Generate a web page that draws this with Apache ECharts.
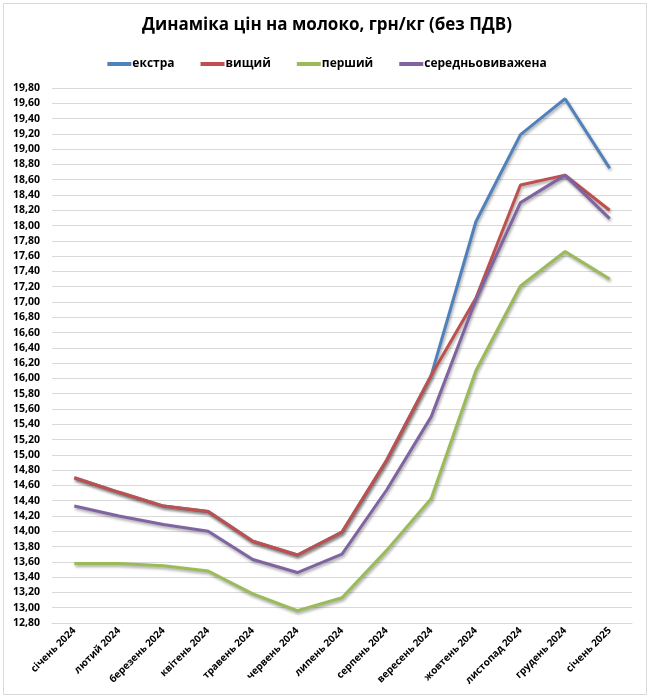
<!DOCTYPE html>
<html><head><meta charset="utf-8">
<script src="https://cdn.jsdelivr.net/npm/echarts@6/dist/echarts.min.js"></script>
<style>html,body{margin:0;padding:0;background:#fff}#c{width:654px;height:700px}</style>
</head><body><div id="c"></div>
<script>
const categories = ['січень 2024','лютий 2024','березень 2024','квітень 2024','травень 2024','червень 2024','липень 2024','серпень 2024','вересень 2024','жовтень 2024','листопад 2024','грудень 2024','січень 2025'];
const ekstra = [14.70,14.51,14.33,14.26,13.87,13.69,13.99,14.93,16.04,18.05,19.19,19.66,18.75];
const vyshchyi = [14.70,14.51,14.33,14.26,13.87,13.69,13.99,14.93,16.04,17.05,18.53,18.66,18.20];
const pershyi = [13.58,13.58,13.55,13.48,13.18,12.96,13.13,13.75,14.43,16.10,17.21,17.66,17.30];
const serednio = [14.33,14.20,14.09,14.00,13.63,13.46,13.70,14.54,15.50,17.03,18.30,18.66,18.09];
const seriesNames = ['екстра','вищий','перший','середньовиважена'];
const colors = ['#4F81BD','#C0504D','#9BBB59','#8064A2'];
const font = '"Open Sans", "Liberation Sans", sans-serif';

const chart = echarts.init(document.getElementById('c'));
const mk = (name, data, color, z) => ({
  name, type: 'line', data, symbol: 'none', z,
  lineStyle: { color, width: 3, shadowColor: 'rgba(0,0,0,0.35)', shadowBlur: 3, shadowOffsetX: 1, shadowOffsetY: 2 },
  itemStyle: { color }
});
chart.setOption({
  animation: false,
  title: { text: 'Динаміка цін на молоко, грн/кг (без ПДВ)', left: 'center', top: 12,
    textStyle: { fontFamily: font, fontWeight: 'bold', fontSize: 17, color: '#000' } },
  legend: { top: 53, left: 'center', itemWidth: 24, itemHeight: 4, itemGap: 26, icon: 'rect',
    data: seriesNames,
    textStyle: { fontFamily: font, fontWeight: 'bold', fontSize: 12, color: '#000', padding: [0,0,0,-4] } },
  graphic: [{ type: 'rect', shape: { x: 3.5, y: 3.5, width: 643, height: 691 }, style: { fill: 'none', stroke: '#d9d9d9', lineWidth: 1 }, silent: true }],
  grid: { left: 52, right: 22, top: 88, bottom: 77 },
  xAxis: { type: 'category', data: categories, boundaryGap: true,
    axisLine: { lineStyle: { color: '#d9d9d9' } }, axisTick: { show: false },
    axisLabel: { rotate: 45, interval: 0, margin: 6, fontFamily: font, fontWeight: 'bold', fontSize: 10, color: '#000' } },
  yAxis: { type: 'value', min: 12.8, max: 19.8, interval: 0.2,
    axisLine: { show: false }, axisTick: { show: false },
    splitLine: { lineStyle: { color: '#d9d9d9', width: 1 } },
    axisLabel: { margin: 12, fontFamily: font, fontWeight: 'bold', fontSize: 10.5, color: '#000',
      formatter: v => v.toFixed(2).replace('.', ',') } },
  series: [mk(seriesNames[0], ekstra, colors[0], 2), mk(seriesNames[1], vyshchyi, colors[1], 3),
           mk(seriesNames[2], pershyi, colors[2], 2), mk(seriesNames[3], serednio, colors[3], 4)]
});
</script></body></html>
